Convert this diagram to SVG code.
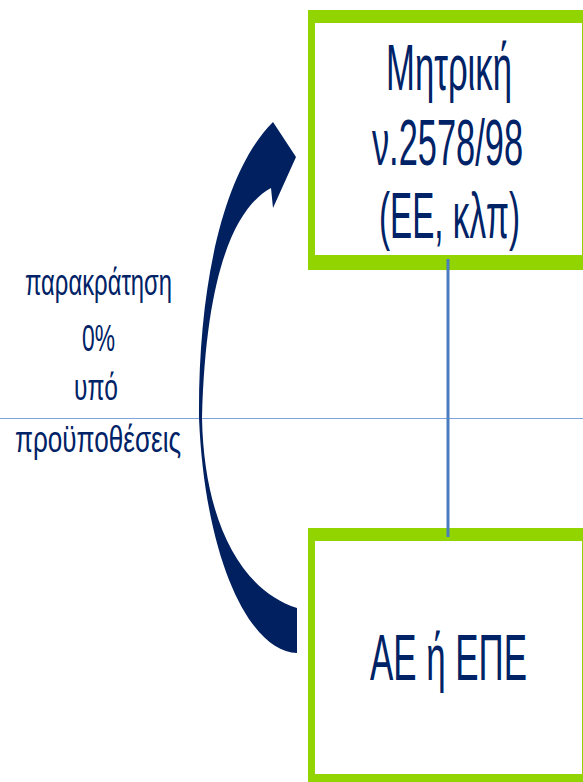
<svg xmlns="http://www.w3.org/2000/svg" width="583" height="782" viewBox="0 0 583 782">
  <style>
    .frame { fill: #92d400; }
    .inner { fill: #ffffff; }
    .lbl { font-family: "Liberation Sans", Arial, sans-serif; fill: #002266; }
    .big { font-size: 64px; text-anchor: middle; }
    .small { font-size: 36px; }
    .link { stroke: #4a7cc0; stroke-width: 3; fill: none; }
    .guide { stroke: #7ea3dc; stroke-width: 1.2; fill: none; }
    .arrow { fill: #002060; }
  </style>
  <rect width="583" height="782" fill="#ffffff"/>

  <!-- horizontal guide line -->
  <line class="guide" x1="0" y1="418.5" x2="583" y2="418.5"/>

  <!-- parent company box (condensed lettering via horizontal scale) -->
  <g id="parent">
    <rect class="frame" x="308" y="10" width="275" height="260"/>
    <rect class="inner" x="315" y="23" width="267" height="232"/>
    <g transform="scale(0.54,1)">
      <text class="lbl big" x="831.5" y="90" textLength="233" lengthAdjust="spacingAndGlyphs">Μητρική</text>
      <text class="lbl big" x="828.7" y="165" textLength="280" lengthAdjust="spacingAndGlyphs">ν.2578/98</text>
      <text class="lbl big" x="832.4" y="238" textLength="261" lengthAdjust="spacingAndGlyphs">(ΕΕ, κλπ)</text>
    </g>
  </g>

  <!-- subsidiary box -->
  <g id="subsidiary">
    <rect class="frame" x="308" y="528" width="275" height="254"/>
    <rect class="inner" x="315" y="541" width="267" height="233"/>
    <g transform="scale(0.54,1)">
      <text class="lbl big" x="830.6" y="680" textLength="291" lengthAdjust="spacingAndGlyphs">ΑΕ ή ΕΠΕ</text>
    </g>
  </g>

  <!-- connectors -->
  <g id="connectors">
    <line class="link" x1="448" y1="259" x2="448" y2="537"/>
    <path class="arrow" d="M 273 122 L 296 157 L 273 208 L 271 188 C 240 205, 206 260, 202 418 C 204 520, 240 590, 297 608 L 297 653 C 250 652, 205 560, 199 418 C 198 280, 225 170, 273 122 Z"/>
  </g>

  <!-- arrow caption -->
  <g id="caption">
    <text class="lbl small" x="25" y="295" textLength="147" lengthAdjust="spacingAndGlyphs">παρακράτηση</text>
    <text class="lbl small" x="82" y="351" textLength="33" lengthAdjust="spacingAndGlyphs">0%</text>
    <text class="lbl small" x="74" y="400" textLength="44" lengthAdjust="spacingAndGlyphs">υπό</text>
    <text class="lbl small" x="15" y="452" textLength="166" lengthAdjust="spacingAndGlyphs">προϋποθέσεις</text>
  </g>
</svg>
